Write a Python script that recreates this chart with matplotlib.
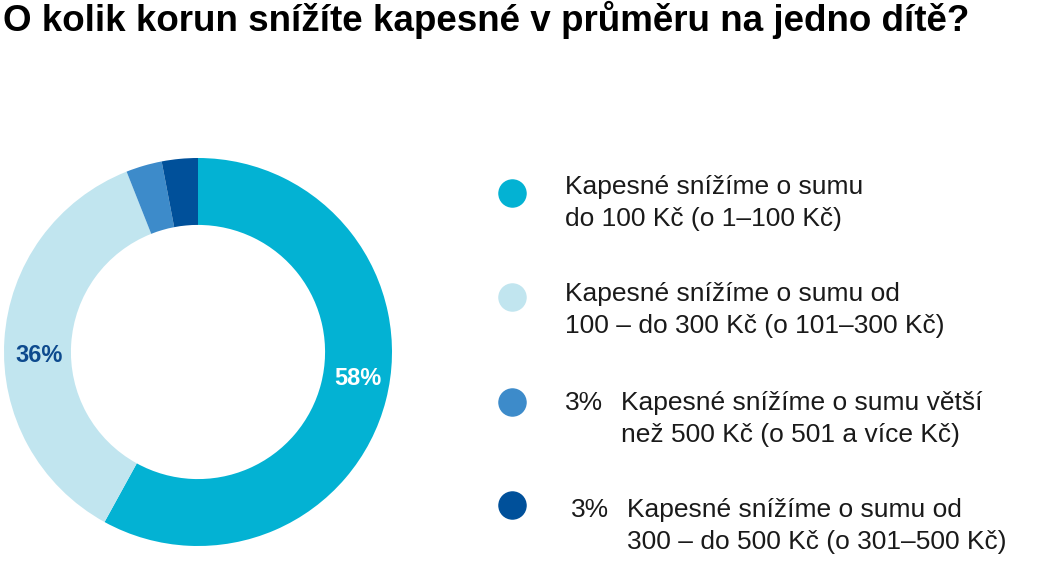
import matplotlib
matplotlib.use("Agg")
import matplotlib.pyplot as plt
import numpy as np

# ---- data ----
values = [58, 36, 3, 3]
pct_labels = ["58%", "36%", "", ""]
colors = ["#03b2d3", "#c1e5ef", "#3d8bca", "#00509a"]
legend_labels = [
    "Kapesné snížíme o sumu\ndo 100 Kč (o 1–100 Kč)",
    "Kapesné snížíme o sumu od\n100 – do 300 Kč (o 101–300 Kč)",
    "Kapesné snížíme o sumu větší\nnež 500 Kč (o 501 a více Kč)",
    "Kapesné snížíme o sumu od\n300 – do 500 Kč (o 301–500 Kč)",
]
legend_prefix = ["", "", "3%", "3%"]
pct_label_colors = ["white", "#0d4a8e", "white", "white"]
title = "O kolik korun snížíte kapesné v průměru na jedno dítě?"

plt.rcParams['font.family'] = ['Liberation Sans', 'DejaVu Sans']

W, H = 1042, 572
fig = plt.figure(figsize=(W / 100, H / 100), dpi=100)

# donut axes: center (198,352) px, radius 194 px
cx, cy, R = 198, 352, 194
ax = fig.add_axes([(cx - R) / W, (H - cy - R) / H, 2 * R / W, 2 * R / H])
width = 0.345
wedges, _ = ax.pie(values, colors=colors, startangle=90, counterclock=False,
                   radius=1.0, wedgeprops=dict(width=width, linewidth=0))
ax.set_xlim(-1, 1)
ax.set_ylim(-1, 1)
ax.set_aspect('equal')
ax.axis('off')

rlab = 1 - width / 2
label_angle_offset = 5.0
for w, lab, c in zip(wedges, pct_labels, pct_label_colors):
    if not lab:
        continue
    ang = np.deg2rad((w.theta1 + w.theta2) / 2 + label_angle_offset)
    ax.text(rlab * np.cos(ang) + 0.01, rlab * np.sin(ang), lab, ha='center', va='center',
            fontsize=17, fontweight='bold', color=c)

# overlay axes in pixel coords for title & legend
ov = fig.add_axes([0, 0, 1, 1])
ov.set_xlim(0, W)
ov.set_ylim(H, 0)
ov.axis('off')

ov.text(3, 20, title, fontsize=26.5, fontweight='bold', color='black',
        ha='left', va='center')

marker_x = 512
marker_y = [193, 297, 402, 505]
text_y = [187, 294, 403, 510]
text_x = [565, 565, 565, 571]
text_x_shift = [0, 0, 56, 56]
line_gap = 32
txt_color = '#1a1a1a'
for my, ty, lab, pre, c, tx, sh in zip(marker_y, text_y, legend_labels, legend_prefix,
                                        colors, text_x, text_x_shift):
    ov.plot([marker_x], [my], marker='o', markersize=19.5, color=c, linestyle='none')
    if pre:
        ov.text(tx, ty, pre, fontsize=19, color=txt_color, ha='left', va='center')
    for i, line in enumerate(lab.split("\n")):
        ov.text(tx + sh, ty + i * line_gap, line, fontsize=19, color=txt_color,
                ha='left', va='center')

fig.savefig("out.png", dpi=100)
